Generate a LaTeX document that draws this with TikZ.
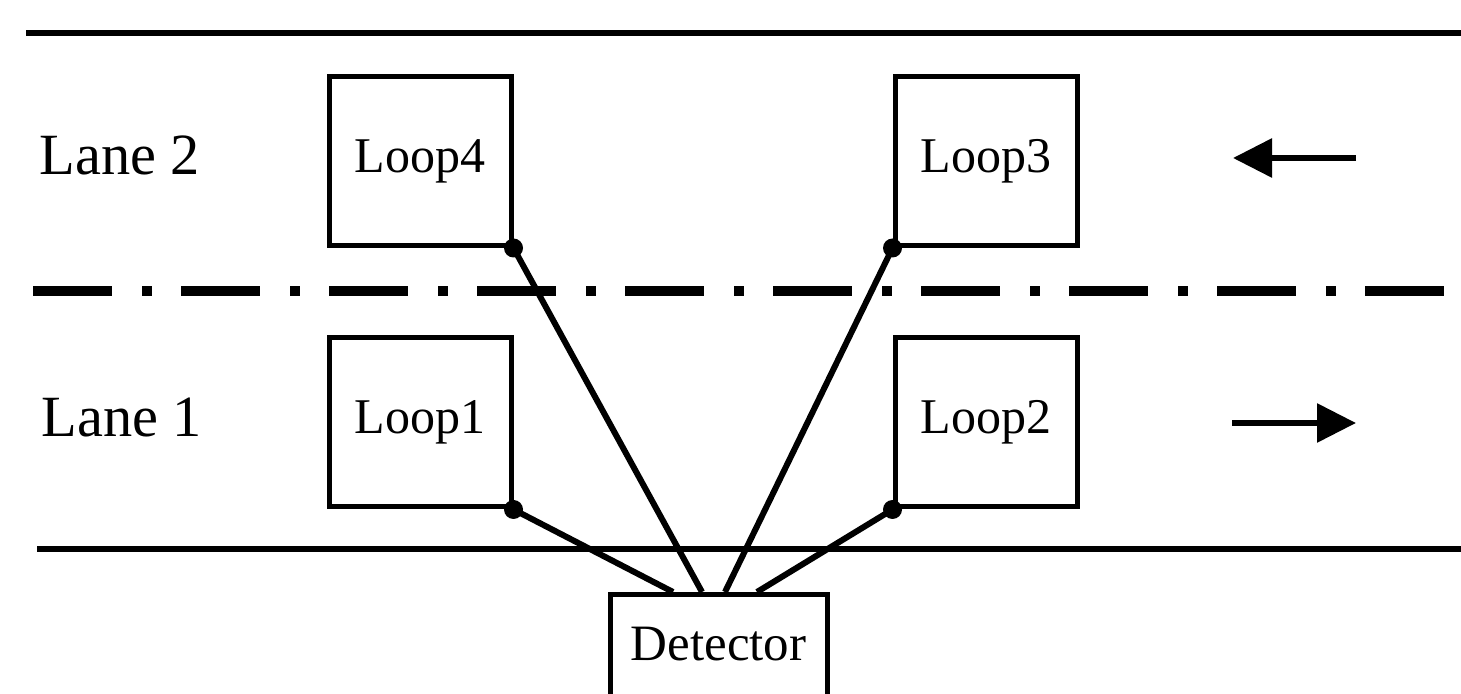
\documentclass[tikz,border=0pt]{standalone}
\usepackage{fontspec}
\setmainfont{Liberation Serif}
\usetikzlibrary{arrows.meta}
\tikzset{
  loopbox/.style={draw, line width=2.5pt, inner sep=0pt, minimum width=91pt, minimum height=84.5pt, font=\fontsize{25pt}{30pt}\selectfont},
  lanelabel/.style={anchor=base west, inner sep=0pt, font=\fontsize{29.2pt}{35pt}\selectfont},
  roadline/.style={line width=3pt},
  centerline/.style={line width=5pt, dash pattern=on 39.5pt off 15pt on 5pt off 14.5pt},
  wire/.style={line width=3pt},
  dirarrow/.style={line width=3pt, -{Triangle[length=19.5pt,width=19pt]}},
  pin/.style={circle, fill, inner sep=0pt, minimum size=9.5pt}
}
\begin{document}
\begin{tikzpicture}[x=0.5pt,y=-0.5pt]
\useasboundingbox (0,0) rectangle (1461,694);
\clip (0,0) rectangle (1461,694);
% road
\draw[roadline] (26,33) -- (1461,33);
\draw[roadline] (37,549) -- (1461,549);
\draw[centerline] (33,291) -- (1445,291);
% labels
\node[lanelabel] (lane2) at (39,175) {Lane 2};
\node[lanelabel] (lane1) at (41,437) {Lane 1};
% loops
\node[loopbox] (loop4) at (420,161) {Loop4};
\node[loopbox] (loop3) at (986,161) {Loop3};
\node[loopbox] (loop1) at (420,422.5) {Loop1};
\node[loopbox] (loop2) at (986,422.5) {Loop2};
% detector
\node[draw, line width=2.5pt, inner sep=0pt, minimum width=108.5pt, text height=33pt, text depth=40pt, anchor=north, font=\fontsize{25.5pt}{30pt}\selectfont] (det) at (718.5,592) {Detector};
% detector entry points
\coordinate (d1) at (673,592);
\coordinate (d4) at (702,592);
\coordinate (d3) at (725,592);
\coordinate (d2) at (757,592);
% wires
\draw[wire] (loop1.south east) -- (d1);
\draw[wire] (loop4.south east) -- (d4);
\draw[wire] (loop3.south west) -- (d3);
\draw[wire] (loop2.south west) -- (d2);
\node[pin] (p1) at (loop1.south east) {};
\node[pin] (p4) at (loop4.south east) {};
\node[pin] (p3) at (loop3.south west) {};
\node[pin] (p2) at (loop2.south west) {};
% direction arrows
\coordinate (a2s) at (1356,158);
\coordinate (a2e) at (1233,158);
\coordinate (a1s) at (1232,423);
\coordinate (a1e) at (1356,423);
\draw[dirarrow] (a2s) -- (a2e);
\draw[dirarrow] (a1s) -- (a1e);
\end{tikzpicture}
\end{document}
